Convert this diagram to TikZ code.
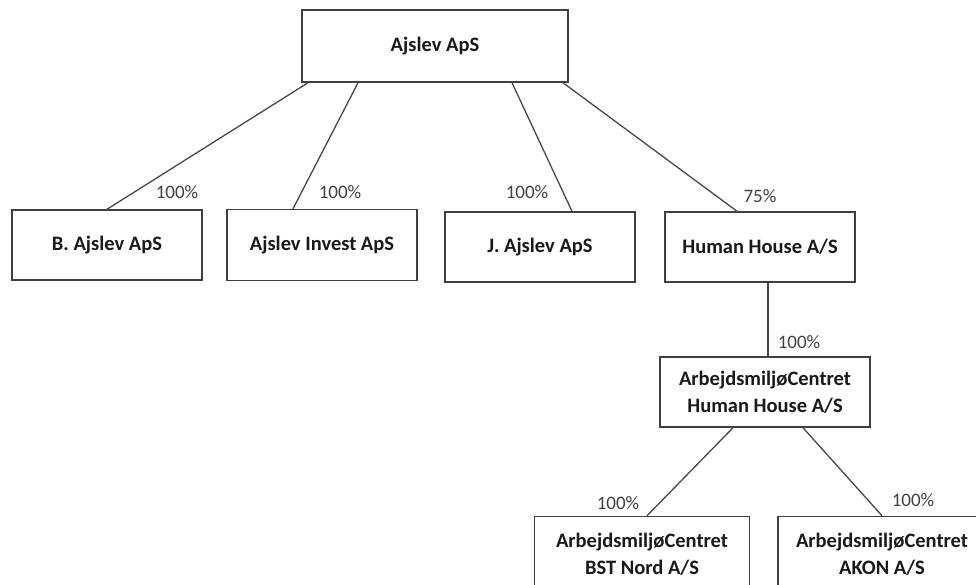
\documentclass[tikz,border=0pt]{standalone}
\usepackage{fontspec}
\setmainfont{Carlito}
\begin{document}
\begin{tikzpicture}[x=1pt, y=-1pt,
		firm/.style={draw=black!75, line width=1.5pt, fill=white, align=center, inner sep=0pt,
			font=\fontsize{20.5}{27}\selectfont\bfseries, text=black!90},
		share/.style={font=\fontsize{19}{21}\selectfont, text=black!75},
		link/.style={draw=black!72, line width=1.3pt}]
	\clip (0,0) rectangle (976,584);

	% Selskaber
	\node[firm, minimum width=266pt, minimum height=72pt] (ajslev) at (435,46) {Ajslev ApS};
	\node[firm, minimum width=190pt, minimum height=70pt] (bajslev) at (107,245) {B. Ajslev ApS};
	\node[firm, minimum width=190pt, minimum height=71pt] (invest) at (322,245) {Ajslev Invest ApS};
	\node[firm, minimum width=190pt, minimum height=70pt] (jajslev) at (540,247) {J. Ajslev ApS};
	\node[firm, minimum width=190pt, minimum height=70pt] (human) at (760,247) {Human House A/S};
	\node[firm, minimum width=210pt, minimum height=70pt] (amchh) at (765,392) {ArbejdsmiljøCentret\\Human House A/S};
	\node[firm, minimum width=215pt, minimum height=75pt] (bst) at (642,554) {ArbejdsmiljøCentret\\BST Nord A/S};
	\node[firm, minimum width=208pt, minimum height=75pt] (akon) at (882,554) {ArbejdsmiljøCentret\\AKON A/S};

	% Ejerforhold
	\draw[link] ([xshift=-127pt]ajslev.south) -- (bajslev.north);
	\draw[link] ([xshift=-77pt]ajslev.south) -- ([xshift=-29pt]invest.north);
	\draw[link] ([xshift=77pt]ajslev.south) -- ([xshift=32pt]jajslev.north);
	\draw[link] ([xshift=128pt]ajslev.south) -- ([xshift=-23pt]human.north);
	\draw[link] ([xshift=8pt]human.south) -- ([xshift=3pt]amchh.north);
	\draw[link] ([xshift=-32pt]amchh.south) -- ([xshift=5pt]bst.north);
	\draw[link] ([xshift=38pt]amchh.south) -- (akon.north);

	% Andele
	\node[share] (pctb) at (177,192) {100\%};
	\node[share] (pctinvest) at (340,192) {100\%};
	\node[share] (pctj) at (527,192) {100\%};
	\node[share] (pcthuman) at (760,196) {75\%};
	\node[share] (pctamchh) at (799,342) {100\%};
	\node[share] (pctbst) at (618,503) {100\%};
	\node[share] (pctakon) at (913,500) {100\%};
\end{tikzpicture}
\end{document}
